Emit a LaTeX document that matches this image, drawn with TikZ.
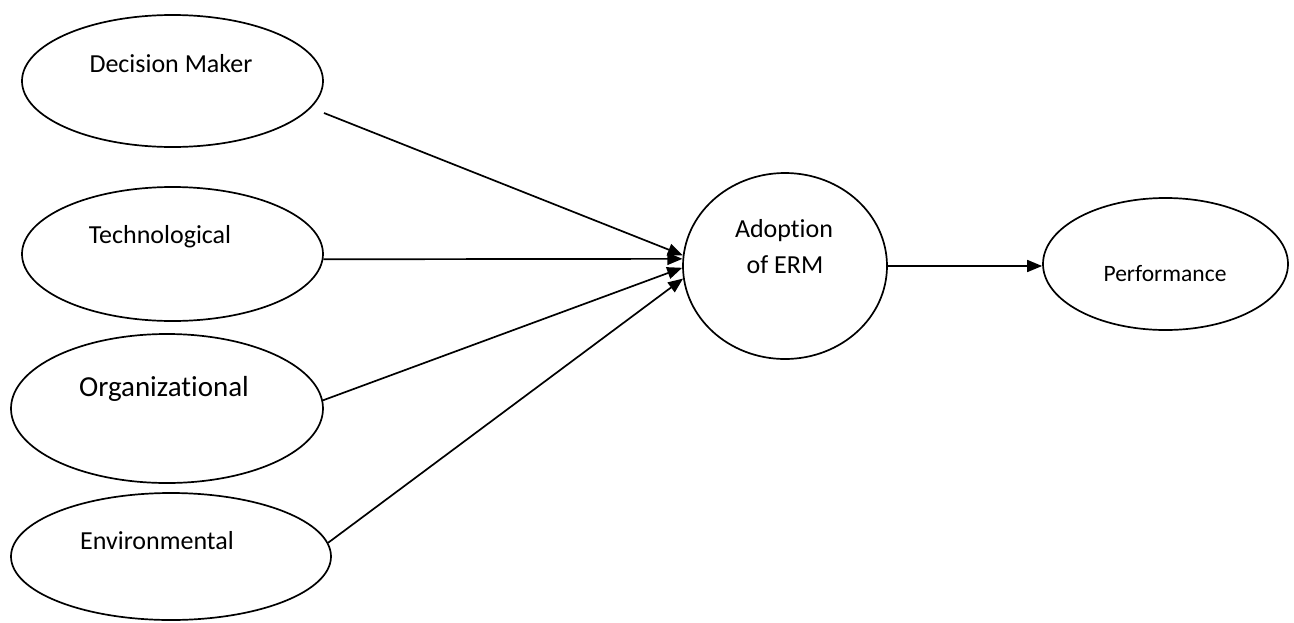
\documentclass[tikz,border=0pt]{standalone}
\usepackage{fontspec}
\setmainfont{Carlito}[Ligatures=NoCommon]
\usetikzlibrary{shapes.geometric,arrows.meta}

\tikzset{
    oval/.style={draw, ellipse, line width=1.7pt, inner sep=0pt},
    conn/.style={line width=1.7pt, -{Triangle[length=15pt,width=12pt]}},
    lbl/.style={anchor=base, inner sep=0pt, font=\fontsize{26}{36}\selectfont}
}

\begin{document}
\begin{tikzpicture}[x=1pt, y=-1pt]
    \useasboundingbox (0,0) rectangle (1294,622);

    % factors on the left
    \node[oval, minimum width=301pt, minimum height=132pt] (dm) at (172.5,81) {};
    \node[oval, minimum width=301pt, minimum height=134pt] (tech) at (172.5,254) {};
    \node[oval, minimum width=312pt, minimum height=149pt] (org) at (167,408.5) {};
    \node[oval, minimum width=320pt, minimum height=127pt] (env) at (171,556.5) {};
    \node[lbl] (dmtext) at (171,72) {Decision Maker};
    \node[lbl] (techtext) at (160,243) {Technological};
    \node[lbl, font=\fontsize{29}{36}\selectfont] (orgtext) at (164,396) {Organizational};
    \node[lbl] (envtext) at (157,549) {Environmental};

    % adoption and outcome
    \node[oval, minimum width=204pt, minimum height=186pt] (adopt) at (785,266) {};
    \node[lbl] (adopttext) at (784,237) {Adoption};
    \node[lbl] (ermtext) at (785,273) {of ERM};
    \node[oval, minimum width=245pt, minimum height=132pt] (perf) at (1165.5,264) {};
    \node[lbl, font=\fontsize{23.5}{30}\selectfont] (perftext) at (1165,281) {Performance};

    % paths
    \coordinate (dmout) at (324,113);
    \draw[conn] (dmout) -- (adopt.174);
    \draw[conn] (tech.-2) -- (adopt.176);
    \draw[conn] (org.3) -- (adopt.181);
    \draw[conn] (env.5) -- (adopt.187);
    \draw[conn] (adopt.east) -- (adopt.east -| perf.west);
\end{tikzpicture}
\end{document}
